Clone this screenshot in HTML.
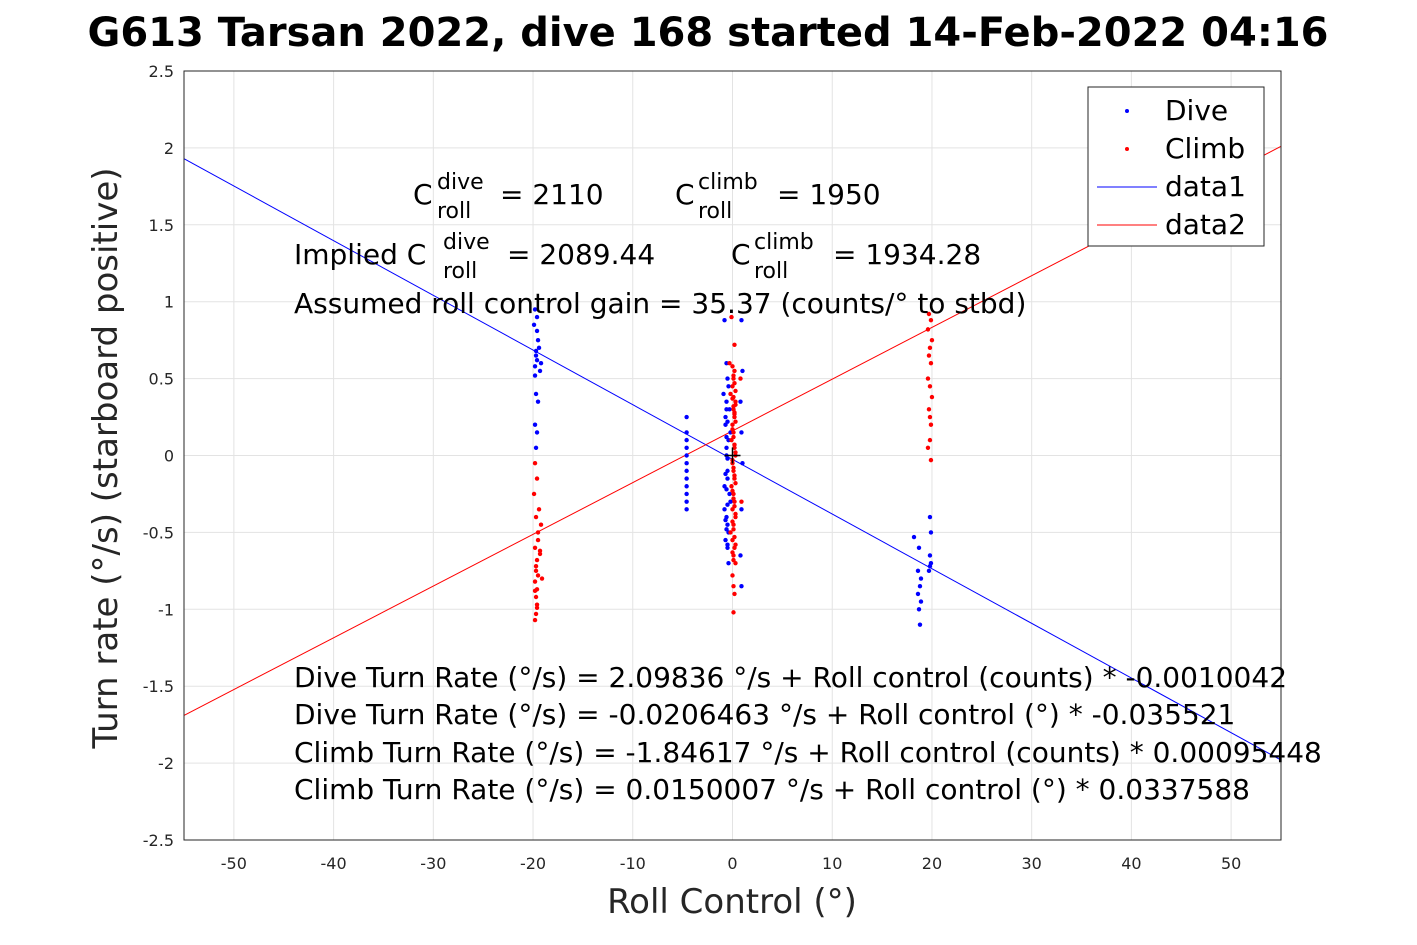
<!DOCTYPE html>
<html><head><meta charset="utf-8"><style>
html,body{margin:0;padding:0;background:#fff;}
svg{display:block;font-family:"DejaVu Sans","Liberation Sans",sans-serif;}
</style></head><body>
<svg id="chart" width="1417" height="945" xmlns="http://www.w3.org/2000/svg">
<text x="708" y="46" text-anchor="middle" font-size="40" font-weight="bold">G613 Tarsan 2022, dive 168 started 14-Feb-2022 04:16</text>
<g id="grid"></g>
<g id="ticks"></g>
<g id="lines"></g>
<g id="pts"></g>
<rect x="184" y="71" width="1097" height="769" fill="none" stroke="#262626" stroke-width="1"/>
<g font-size="28" fill="#000">
<g><text x="413" y="204">C</text><text x="437" y="189" font-size="22">dive</text><text x="437" y="218" font-size="22">roll</text><text x="500" y="204">= 2110</text></g>
<g><text x="675" y="204">C</text><text x="698" y="189" font-size="22">climb</text><text x="698" y="218" font-size="22">roll</text><text x="777" y="204">= 1950</text></g>
<g><text x="294" y="264">Implied C</text><text x="443" y="249" font-size="22">dive</text><text x="443" y="278" font-size="22">roll</text><text x="507" y="264">= 2089.44</text></g>
<g><text x="731" y="264">C</text><text x="754" y="249" font-size="22">climb</text><text x="754" y="278" font-size="22">roll</text><text x="833" y="264">= 1934.28</text></g>
<text x="294" y="313">Assumed roll control gain = 35.37 (counts/° to stbd)</text>
<text x="294" y="687">Dive Turn Rate (°/s) = 2.09836 °/s + Roll control (counts) * -0.0010042</text>
<text x="294" y="724">Dive Turn Rate (°/s) = -0.0206463 °/s + Roll control (°) * -0.035521</text>
<text x="294" y="762">Climb Turn Rate (°/s) = -1.84617 °/s + Roll control (counts) * 0.00095448</text>
<text x="294" y="799">Climb Turn Rate (°/s) = 0.0150007 °/s + Roll control (°) * 0.0337588</text>
</g>
<g>
<rect x="1088" y="87" width="176" height="159" fill="#fff" stroke="#262626"/>
<circle cx="1127" cy="111" r="2" fill="#0000ff"/>
<text x="1165" y="120" font-size="28">Dive</text>
<circle cx="1127" cy="149" r="2" fill="#ff0000"/>
<text x="1165" y="158" font-size="28">Climb</text>
<line x1="1097" y1="187" x2="1157" y2="187" stroke="#0000ff"/>
<text x="1165" y="196" font-size="28">data1</text>
<line x1="1097" y1="225" x2="1157" y2="225" stroke="#ff0000"/>
<text x="1165" y="234" font-size="28">data2</text>
</g>
<text x="732" y="913" text-anchor="middle" font-size="34" fill="#262626">Roll Control (°)</text>
<text transform="translate(117,458) rotate(-90)" text-anchor="middle" font-size="34" fill="#262626">Turn rate (°/s) (starboard positive)</text>
</svg>
<script>
const xTicks=[-50,-40,-30,-20,-10,0,10,20,30,40,50];
const yTicks=[-2.5,-2,-1.5,-1,-0.5,0,0.5,1,1.5,2,2.5];
const xDomain=[-55,55], yDomain=[-2.5,2.5];
const diveLine=[[-55,1.93],[55,-1.98]];
const climbLine=[[-55,-1.69],[55,2.01]];
const diveX=[-19.8,-19.6,-19.9,-19.4,-19.7,-19.2,-19.5,-19.8,-19.3,-19.6,-19.7,-19.5,-19.8,-19.6,-19.7,-19.6,-19.7,-19.8,
-4.6,-4.6,-4.6,-4.6,-4.6,-4.6,-4.6,-4.6,-4.6,-4.6,-4.6,-4.6,
-0.8,-0.6,-0.5,-0.9,-0.3,-0.7,-0.4,-0.6,-0.5,-0.8,-0.2,-0.6,-0.4,-0.7,-0.5,-0.3,-0.6,-0.2,-0.5,-0.8,0.9,1.0,0.8,0.9,1.0,0.9,0.8,0.9,-0.6,-0.5,-0.4,
-0.7,-0.6,-0.5,-0.7,-0.6,-0.5,-0.7,-0.6,-0.5,-0.4,-0.6,-0.5,
18.2,18.7,18.6,18.9,18.8,18.6,18.9,18.7,18.8,19.8,19.9,19.8,19.9,19.8,19.7];
const diveY=[0.95,0.9,0.85,0.7,0.65,0.6,0.75,0.58,0.55,0.62,0.4,0.35,0.2,0.15,0.05,0.81,0.68,0.52,
0.25,0.15,0.1,0.05,0.0,-0.05,-0.1,-0.15,-0.2,-0.25,-0.3,-0.35,
0.88,0.6,0.5,0.4,0.3,0.2,0.1,0.0,-0.1,-0.2,-0.3,-0.4,-0.5,-0.55,-0.45,-0.25,0.05,0.15,-0.6,-0.35,0.88,0.55,0.35,0.15,-0.05,-0.35,-0.65,-0.85,0.3,-0.15,0.45,
0.25,0.12,-0.02,-0.12,-0.22,-0.32,-0.42,-0.48,-0.58,-0.7,0.35,0.22,
-0.53,-0.6,-0.75,-0.8,-0.85,-0.9,-0.95,-1.0,-1.1,-0.4,-0.5,-0.65,-0.7,-0.72,-0.75];
const climbX=[-19.8,-19.6,-19.9,-19.4,-19.7,-19.2,-19.5,-19.8,-19.3,-19.6,-19.7,-19.5,-19.8,-19.6,-19.7,-19.6,-19.7,-19.8,-19.5,-19.7,-19.1,-19.3,-19.8,-19.6,
-0.3,0.2,0.1,0.0,-0.2,0.3,0.1,0.2,0.0,0.1,-0.1,0.2,0.3,0.0,0.1,0.2,-0.1,0.1,0.2,0.0,0.3,0.1,-0.2,0.0,0.2,0.1,0.3,0.0,0.1,0.2,-0.1,0.1,0.9,0.8,0.1,0.2,
0.0,0.1,0.2,0.3,0.0,0.1,0.2,0.3,0.0,0.1,0.2,0.3,0.0,0.1,0.2,0.3,0.0,0.1,0.2,0.3,0.0,0.1,0.2,0.3,0.0,0.1,0.2,0.3,
19.7,19.9,19.6,20.0,19.8,19.7,19.9,19.6,19.8,20.0,19.7,19.9,19.8,19.6,19.9,19.8];
const climbY=[-0.05,-0.15,-0.25,-0.35,-0.4,-0.45,-0.55,-0.6,-0.62,-0.68,-0.72,-0.78,-0.82,-0.87,-0.92,-0.97,-1.03,-1.07,-0.5,-0.75,-0.8,-0.64,-0.88,-0.99,
0.6,0.55,0.5,0.45,0.4,0.35,0.3,0.25,0.2,0.15,0.1,0.05,0.0,-0.05,-0.1,-0.15,-0.2,-0.25,-0.3,-0.35,-0.4,-0.45,-0.5,-0.55,-0.6,-0.65,-0.7,-0.78,-0.85,0.72,0.9,-1.02,-0.3,0.5,0.38,-0.9,
0.58,0.52,0.47,0.42,0.37,0.32,0.27,0.22,0.17,0.12,0.07,0.02,-0.03,-0.08,-0.13,-0.18,-0.23,-0.28,-0.33,-0.38,-0.43,-0.48,-0.53,-0.58,-0.63,-0.68,0.28,0.33,
0.92,0.88,0.82,0.75,0.7,0.65,0.6,0.5,0.45,0.38,0.3,0.2,0.1,0.05,-0.03,0.25];
const SVGNS="http://www.w3.org/2000/svg";
const L=184,R=1281,T=71,B=840;
function sx(v){return L+(v-xDomain[0])/(xDomain[1]-xDomain[0])*(R-L);}
function sy(v){return B-(v-yDomain[0])/(yDomain[1]-yDomain[0])*(B-T);}
function mk(tag,attrs,parent){const e=document.createElementNS(SVGNS,tag);for(const k in attrs)e.setAttribute(k,attrs[k]);parent.appendChild(e);return e;}
const grid=document.getElementById('grid'),ticks=document.getElementById('ticks');
xTicks.forEach(t=>{
  const gl=mk('line',{x1:sx(t),x2:sx(t),y1:T,y2:B,stroke:'#e3e3e3'},grid);
  
  
  const tl=mk('text',{x:sx(t),y:869,'text-anchor':'middle','font-size':16,fill:'#262626'},ticks);
  tl.textContent=t;
  
  
});
yTicks.forEach(t=>{
  const gl=mk('line',{x1:L,x2:R,y1:sy(t),y2:sy(t),stroke:'#e3e3e3'},grid);
  
  
  const tl=mk('text',{x:174,y:sy(t)+6,'text-anchor':'end','font-size':16,fill:'#262626'},ticks);
  tl.textContent=t;
  
  
});
const lines=document.getElementById('lines');
const l1=mk('line',{x1:sx(diveLine[0][0]),y1:sy(diveLine[0][1]),x2:sx(diveLine[1][0]),y2:sy(diveLine[1][1]),stroke:'#0000ff'},lines);


const l2=mk('line',{x1:sx(climbLine[0][0]),y1:sy(climbLine[0][1]),x2:sx(climbLine[1][0]),y2:sy(climbLine[1][1]),stroke:'#ff0000'},lines);


const pts=document.getElementById('pts');
diveX.forEach((x,i)=>{
  const c=mk('circle',{cx:sx(x),cy:sy(diveY[i]),r:2.2,fill:'#0000ff'},pts);
  
  
});
climbX.forEach((x,i)=>{
  const c=mk('circle',{cx:sx(x),cy:sy(climbY[i]),r:2.2,fill:'#ff0000'},pts);
  
  
});
const cross=mk('path',{d:`M${sx(0)-8},${sy(0)}h16M${sx(0)},${sy(0)-8}v16`,stroke:'#000','stroke-width':1.5},pts);


</script>
</body></html>
